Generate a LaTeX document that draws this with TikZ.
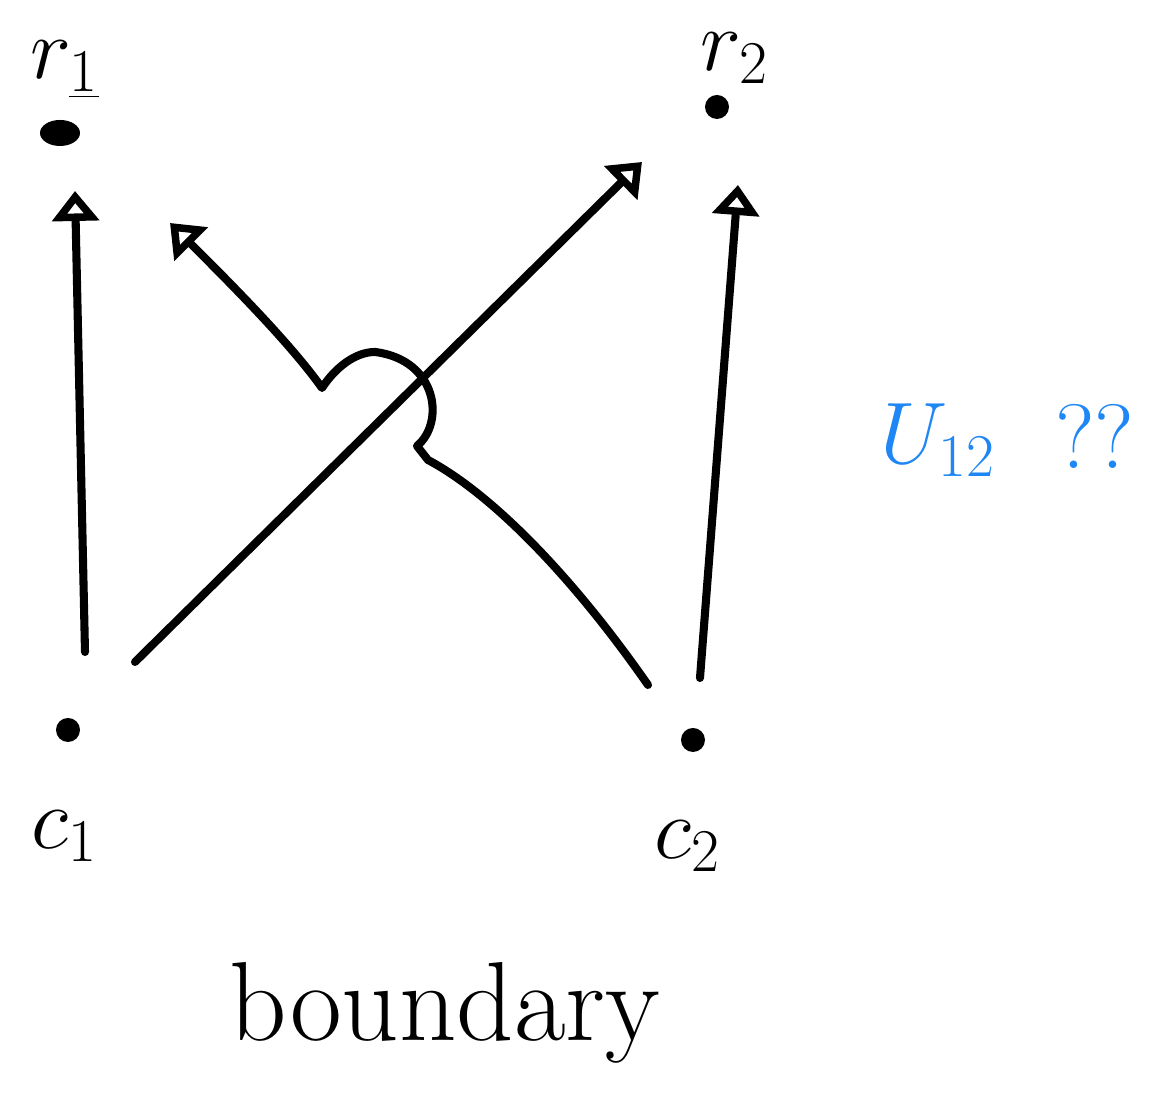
\documentclass[tikz,border=0pt]{standalone}
\usepackage{tikz}
\usetikzlibrary{positioning,arrows.meta,calc,shapes.geometric}
\definecolor{skyblue}{HTML}{1E86F5}

\begin{document}
\begin{tikzpicture}[
    pointDot/.style={circle, fill=black, inner sep=0pt, minimum size=0.28cm},
    pointLabel/.style={font=\fontsize{26}{26}\selectfont, inner sep=1pt},
    flowArrow/.style={line width=2.3pt, line cap=round, line join=round, -{Triangle[open, width=0.46cm, length=0.3cm, line width=2.3pt]}}
]
    \useasboundingbox (0,0) rectangle (11.62,11.18);

    % Points
    \node[pointDot, ellipse, minimum width=0.4cm, minimum height=0.26cm] (r1) at (0.60, 9.85) {};
    \node[pointDot, minimum size=0.24cm] (r2) at (7.17, 10.11) {};
    \node[pointDot, minimum size=0.24cm] (c1) at (0.68, 3.88) {};
    \node[pointDot, minimum size=0.24cm] (c2) at (6.93, 3.78) {};

    % Labels
    \node[pointLabel] (r1lab) at (0.65, 10.48) {$r_{\underline{1}}$};
    \node[pointLabel] (r2lab) at (7.35, 10.60) {$r_2$};
    \node[pointLabel] (c1lab) at (0.65, 2.82) {$c_1$};
    \node[pointLabel] (c2lab) at (6.88, 2.72) {$c_2$};
    \node[pointLabel, text=skyblue] (u12) at (9.38, 6.78) {$U_{12}$};
    \node[pointLabel, text=skyblue] (qq) at (10.95, 6.82) {??};
    \node[font=\fontsize{32}{32}\selectfont] (bound) at (4.45, 1.05) {boundary};

    % Straight connectors
    \draw[flowArrow] ([xshift=0.17cm, yshift=0.78cm]c1.center) -- ([xshift=0.15cm, yshift=-0.58cm]r1.center);
    \draw[flowArrow] ([xshift=0.67cm, yshift=0.68cm]c1.center) -- ([xshift=-0.75cm, yshift=-0.55cm]r2.center);
    \draw[flowArrow] ([xshift=0.07cm, yshift=0.62cm]c2.center) -- ([xshift=0.21cm, yshift=-0.78cm]r2.center);

    % Curved connector hopping over the crossing line
    \coordinate (tipL) at (1.70, 8.95);
    \draw[flowArrow] ([xshift=-0.45cm, yshift=0.55cm]c2.center)
        .. controls (5.70, 5.45) and (4.90, 6.25) .. (4.28, 6.58)
        -- (4.17, 6.72)
        .. controls (4.45, 6.95) and (4.38, 7.58) .. (3.75, 7.66)
        .. controls (3.55, 7.66) and (3.35, 7.50) .. (3.22, 7.30)
        .. controls (2.90, 7.75) and (2.30, 8.35) .. (tipL);
\end{tikzpicture}
\end{document}
